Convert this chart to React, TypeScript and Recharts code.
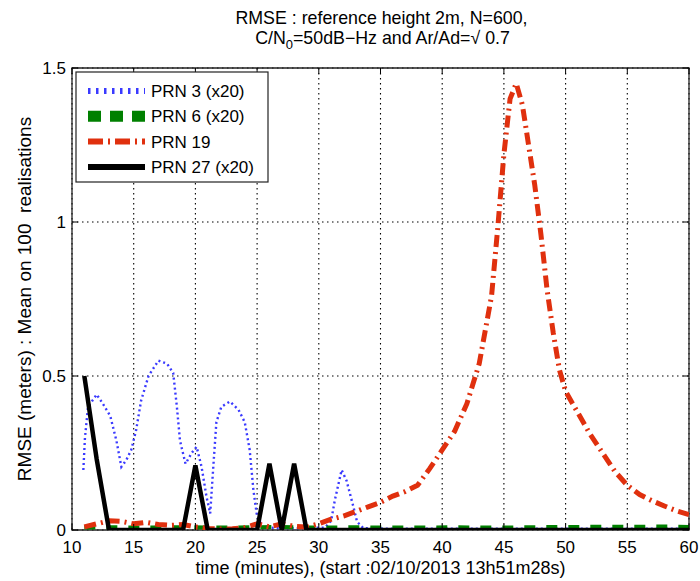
import React from 'react';
import { LineChart, Line, XAxis, YAxis, CartesianGrid, ReferenceArea } from 'recharts';

const W = 700;
const H = 581;
const M = { top: 68, right: 11, bottom: 50, left: 71 };
const PLOT_LEFT = 72;
const PLOT_BOTTOM = 530;
const FONT = '"Liberation Sans", Arial, Helvetica, sans-serif';

const xTicks = [10, 15, 20, 25, 30, 35, 40, 45, 50, 55, 60];
const yTicks = [0, 0.5, 1, 1.5];

// PRN 3 (x20)
const prn3X = [10.92, 11.05, 11.3, 12.0, 12.5, 13.1, 13.6, 14.0, 14.4, 14.8, 15.2, 15.6, 16.2, 17.0, 17.7, 18.2, 18.5, 18.75, 19.2, 19.7, 20.1, 20.5, 20.9, 21.2, 21.45, 21.7, 22.1, 22.8, 23.5, 24.0, 24.4, 24.7, 25.0, 25.5, 27, 29, 30.5, 31.0, 31.3, 31.85, 32.25, 32.8, 33.1, 33.6, 36, 40, 45, 50, 55, 60];
const prn3Y = [0.195, 0.3, 0.4, 0.44, 0.41, 0.37, 0.29, 0.205, 0.227, 0.26, 0.325, 0.42, 0.5, 0.55, 0.54, 0.51, 0.4, 0.29, 0.215, 0.25, 0.27, 0.205, 0.108, 0.054, 0.205, 0.35, 0.4, 0.417, 0.39, 0.35, 0.26, 0.13, 0.043, 0.008, 0.006, 0.006, 0.008, 0.03, 0.097, 0.195, 0.16, 0.076, 0.027, 0.006, 0.004, 0.004, 0.004, 0.004, 0.004, 0.004];

// PRN 6 (x20)
const prn6X = [11, 13, 15, 17, 19, 21, 23, 25, 27, 29, 31, 33, 35, 37, 39, 41, 43, 45, 47, 49, 51, 53, 55, 57, 59, 60];
const prn6Y = [0.008, 0.009, 0.008, 0.008, 0.009, 0.008, 0.008, 0.009, 0.01, 0.008, 0.008, 0.009, 0.008, 0.008, 0.008, 0.009, 0.008, 0.008, 0.009, 0.01, 0.01, 0.011, 0.01, 0.011, 0.011, 0.01];

// PRN 19
const prn19X = [11, 12, 13, 14, 15, 16, 17, 18, 19, 20, 21, 22, 23, 24, 25, 26, 27, 28, 29, 30, 31, 32, 33, 34, 35, 36, 37, 38, 39, 40, 41, 42, 43, 44, 44.5, 45, 45.5, 46, 46.5, 47, 47.5, 48, 48.5, 49, 49.5, 50, 51, 52, 53, 54, 55, 56, 57, 58, 59, 60];
const prn19Y = [0.01, 0.02, 0.03, 0.028, 0.02, 0.025, 0.018, 0.015, 0.018, 0.01, 0.005, 0.003, 0.004, 0.008, 0.02, 0.01, 0.02, 0.012, 0.01, 0.02, 0.035, 0.045, 0.06, 0.075, 0.09, 0.11, 0.125, 0.145, 0.2, 0.26, 0.32, 0.41, 0.54, 0.76, 0.98, 1.22, 1.4, 1.45, 1.38, 1.25, 1.12, 0.96, 0.78, 0.64, 0.52, 0.45, 0.38, 0.31, 0.25, 0.19, 0.145, 0.115, 0.095, 0.078, 0.062, 0.05];

// PRN 27 (x20)
const prn27X = [11, 12, 13, 19, 20, 21, 25, 26, 27, 28, 29, 60];
const prn27Y = [0.5, 0.23, 0, 0, 0.21, 0, 0, 0.215, 0, 0.215, 0, 0];

const seriesNames = ['PRN 3 (x20)', 'PRN 6 (x20)', 'PRN 19', 'PRN 27 (x20)'];

const toPts = (xs: number[], ys: number[]) => xs.map((x, i) => ({ x, y: ys[i] }));

const series = [
  { name: seriesNames[0], data: toPts(prn3X, prn3Y), color: '#3a3aff', width: 2.4, dash: '2 3', lw: 6, ldash: '2.5 5.5' },
  { name: seriesNames[1], data: toPts(prn6X, prn6Y), color: '#008000', width: 4, dash: '11 11', lw: 11, ldash: '13 9' },
  { name: seriesNames[2], data: toPts(prn19X, prn19Y), color: '#e0300e', width: 5, dash: '12 5 2 5', lw: 6, ldash: '15 5 2 5' },
  { name: seriesNames[3], data: toPts(prn27X, prn27Y), color: '#000000', width: 4.5, dash: undefined, lw: 6, ldash: undefined },
];

const renderXTick = (props: any) => {
  const { x, payload } = props;
  const y = PLOT_BOTTOM;
  return (
    <g>
      <line x1={x} x2={x} y1={y} y2={y - 6} stroke="#000" />
      <line x1={x} x2={x} y1={M.top} y2={M.top + 6} stroke="#000" />
      <text x={x} y={y + 23} textAnchor="middle" fontSize={17} fontFamily={FONT} fill="#000">
        {payload.value}
      </text>
    </g>
  );
};

const renderYTick = (props: any) => {
  const { y, payload } = props;
  const x = PLOT_LEFT;
  const right = W - M.right;
  return (
    <g>
      <line x1={x} x2={x + 6} y1={y} y2={y} stroke="#000" />
      <line x1={right - 6} x2={right} y1={y} y2={y} stroke="#000" />
      <text x={x - 6} y={y + 6} textAnchor="end" fontSize={17} fontFamily={FONT} fill="#000">
        {payload.value}
      </text>
    </g>
  );
};

export default function App() {
  const plotCx = PLOT_LEFT + (W - PLOT_LEFT - M.right) / 2;
  const plotCy = M.top + (PLOT_BOTTOM - M.top) / 2;
  return (
    <div style={{ position: 'absolute', left: 0, top: 0, width: W, height: H, background: '#fff' }}>
      <LineChart width={W} height={H} margin={M}>
        <CartesianGrid stroke="#000" strokeWidth={1.1} strokeDasharray="1.5 3.5" />
        <XAxis
          dataKey="x"
          type="number"
          domain={[10, 60]}
          ticks={xTicks}
          interval={0}
          height={1}
          tickSize={0}
          tickMargin={0}
          tickLine={false}
          axisLine={false}
          tick={renderXTick}
          allowDataOverflow
        />
        <YAxis
          type="number"
          domain={[0, 1.5]}
          ticks={yTicks}
          interval={0}
          width={1}
          tickSize={0}
          tickMargin={0}
          tickLine={false}
          axisLine={false}
          tick={renderYTick}
          allowDataOverflow
        />
        <ReferenceArea x1={10} x2={60} y1={0} y2={1.5} fill="none" stroke="#222" strokeWidth={1.3} />
        {series.map((s) => (
          <Line
            key={s.name}
            data={s.data}
            dataKey="y"
            name={s.name}
            type="linear"
            stroke={s.color}
            strokeWidth={s.width}
            strokeDasharray={s.dash}
            dot={false}
            activeDot={false}
            isAnimationActive={false}
          />
        ))}
      </LineChart>
      <svg
        width={W}
        height={H}
        style={{ position: 'absolute', left: 0, top: 0, pointerEvents: 'none' }}
      >
        <text x={plotCx + 1} y={24} textAnchor="middle" fontSize={17.8} fontFamily={FONT} fill="#000">
          RMSE : reference height 2m, N=600,
        </text>
        <text x={plotCx + 2} y={44} textAnchor="middle" fontSize={17.8} fontFamily={FONT} fill="#000">
          <tspan>C/N</tspan>
          <tspan dy={5} fontSize={13}>0</tspan>
          <tspan dy={-5}>=50dB−Hz and Ar/Ad=√ 0.7</tspan>
        </text>
        <text x={plotCx} y={574} textAnchor="middle" fontSize={18} fontFamily={FONT} fill="#000">
          time (minutes), (start :02/10/2013 13h51m28s)
        </text>
        <text
          x={0}
          y={0}
          transform={`translate(31, ${plotCy}) rotate(-90)`}
          textAnchor="middle"
          fontSize={19}
          fontFamily={FONT}
          fill="#000"
        >
          {'RMSE (meters) : Mean on 100\u00A0 realisations'}
        </text>
        <g>
          <rect x={76} y={72} width={192} height={110} fill="#fff" stroke="#222" strokeWidth={1.2} />
          {series.map((s, i) => {
            const cy = 91 + i * 25.3;
            return (
              <g key={s.name}>
                <line x1={88} x2={145} y1={cy} y2={cy} stroke={s.color} strokeWidth={s.lw} strokeDasharray={s.ldash} />
                <text x={151} y={cy + 6} fontSize={17} fontFamily={FONT} fill="#000">
                  {s.name}
                </text>
              </g>
            );
          })}
        </g>
      </svg>
    </div>
  );
}
